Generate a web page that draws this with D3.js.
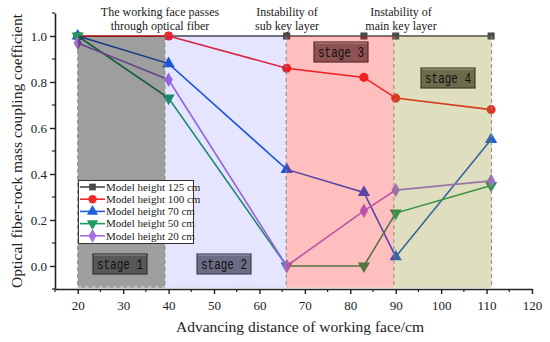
<!DOCTYPE html>
<html><head><meta charset="utf-8">
<script src="https://cdn.jsdelivr.net/npm/d3@7"></script>
<style>body{margin:0;background:#fff}svg{display:block}</style>
</head><body>
<svg id="c" width="550" height="342"></svg>
<script>
const xValues = [20, 40, 66, 83, 90, 111];
const seriesNames = ["Model height 125 cm","Model height 100 cm","Model height 70 cm","Model height 50 cm","Model height 20 cm"];
const h125 = [1.0, 1.0, 1.0, 1.0, 1.0, 1.0];
const h100 = [1.0, 1.0, 0.86, 0.82, 0.73, 0.68];
const h70  = [1.0, 0.88, 0.42, 0.32, 0.04, 0.55];
const h50  = [1.0, 0.73, 0.0, 0.0, 0.23, 0.35];
const h20  = [0.97, 0.81, 0.0, 0.24, 0.33, 0.37];
const stageNames = ["stage 1","stage 2","stage 3","stage 4"];
const stageBounds = [20, 39.2, 65.9, 89.6, 111.1];
const xTicks = [20,30,40,50,60,70,80,90,100,110,120];
const yTicks = [0.0,0.2,0.4,0.6,0.8,1.0];

const colors = ["#4a4a4a","#f02828","#1f5fd8","#1f9a5a","#a570e0"];
const symbols = [d3.symbolSquare, d3.symbolCircle, d3.symbolTriangle, "tdown", d3.symbolDiamond];
const seriesData = [h125,h100,h70,h50,h20];

const svg = d3.select("#c");
const x = d3.scaleLinear().domain([15,120]).range([55,532]);
const y = d3.scaleLinear().domain([-0.1,1.1]).range([289,13]);
const font = "'Liberation Serif','Times New Roman',serif";

function sym(g, s, size){
  if (s === "tdown") {
    return g.append("path").attr("d", d3.symbol(d3.symbolTriangle).size(size)()).attr("transform","rotate(180)");
  }
  return g.append("path").attr("d", d3.symbol(s).size(size)());
}

// series lines & markers
seriesData.forEach((vals, i) => {
  const pts = vals.map((v, k) => [xValues[k], v]);
  svg.append("path").datum(pts)
    .attr("fill","none").attr("stroke",colors[i]).attr("stroke-width",1.6)
    .attr("d", d3.line().x(d=>x(d[0])).y(d=>y(d[1])));
  pts.forEach(p => {
    const g = svg.append("g").attr("transform",`translate(${x(p[0])},${y(p[1])})`);
    const sz = symbols[i] === d3.symbolDiamond ? 60 : (symbols[i]===d3.symbolSquare ? 50 : 65);
    sym(g, symbols[i], sz).attr("fill", colors[i]);
  });
});

// stage overlays
const stageFill = ["#000000","#0000ff","#ff0000","#808000"];
const stageOp = [0.38, 0.1, 0.25, 0.25];
for (let i=0;i<4;i++){
  svg.append("rect")
    .attr("x", x(stageBounds[i])).attr("y", y(1.0))
    .attr("width", x(stageBounds[i+1]) - x(stageBounds[i]))
    .attr("height", y(-0.1) - y(1.0) - 1)
    .attr("fill", stageFill[i]).attr("fill-opacity", stageOp[i]);
}
// dashed borders
for (let i=0;i<5;i++){
  svg.append("line").attr("x1",x(stageBounds[i])).attr("x2",x(stageBounds[i]))
    .attr("y1",y(1.0)).attr("y2",y(-0.1)-1)
    .attr("stroke","#8a8a8a").attr("stroke-width",1).attr("stroke-dasharray","4,3");
}
svg.append("line").attr("x1",x(stageBounds[0])).attr("x2",x(stageBounds[4]))
  .attr("y1",y(-0.1)-2).attr("y2",y(-0.1)-2)
  .attr("stroke","#dddddd").attr("stroke-width",1).attr("stroke-dasharray","4,3");

// stage labels
const stageBox = [
  {cx:120, cy:264, fill:"#575757", stroke:"#333"},
  {cx:224, cy:264, fill:"#6c6c84", stroke:"#44445a"},
  {cx:341, cy:52, fill:"#8e5252", stroke:"#5a2a2a"},
  {cx:448, cy:78, fill:"#6c6c4c", stroke:"#404028"}
];
stageBox.forEach((b,i)=>{
  svg.append("rect").attr("x",b.cx-27).attr("y",b.cy-10).attr("width",54).attr("height",20)
    .attr("fill",b.fill).attr("stroke",b.stroke).attr("stroke-width",1.2);
  svg.append("line").attr("x1",b.cx-26).attr("x2",b.cx+26).attr("y1",b.cy-9).attr("y2",b.cy-9)
    .attr("stroke","#ffffff").attr("stroke-opacity",0.35).attr("stroke-width",1);
  svg.append("text").attr("x",b.cx).attr("y",b.cy+5).attr("text-anchor","middle")
    .attr("font-family","'Liberation Mono','DejaVu Sans Mono',monospace").attr("font-size",14)
    .attr("textLength",46).attr("lengthAdjust","spacingAndGlyphs")
    .attr("fill","#111").text(stageNames[i]);
});

// axes
const xAxis = svg.append("g").attr("transform",`translate(0,${y(-0.1)})`)
  .call(d3.axisBottom(x).tickValues(xTicks).tickFormat(d3.format("d")).tickSize(5).tickSizeOuter(0));
const yAxis = svg.append("g").attr("transform",`translate(${x(15)},0)`)
  .call(d3.axisLeft(y).tickValues(yTicks).tickFormat(d3.format(".1f")).tickSize(5).tickSizeOuter(0));
[xAxis,yAxis].forEach(a=>{
  a.select(".domain").attr("stroke","#222").attr("stroke-width",1.6);
  a.selectAll(".tick line").attr("stroke","#222").attr("stroke-width",1.4);
  a.selectAll("text").attr("font-family",font).attr("font-size",13).attr("fill","#222");
});
xAxis.selectAll("text").attr("dy","1.0em");
// minor ticks
const xMinor = xTicks.slice(0,-1).map(v=>v+5).concat([15]);
xMinor.forEach(v=>{
  svg.append("line").attr("x1",x(v)).attr("x2",x(v)).attr("y1",y(-0.1)).attr("y2",y(-0.1)+3)
    .attr("stroke","#222").attr("stroke-width",1.2);
});
const yMinor = [-0.1,0.1,0.3,0.5,0.7,0.9,1.1];
yMinor.forEach(v=>{
  svg.append("line").attr("x1",x(15)).attr("x2",x(15)-3).attr("y1",y(v)).attr("y2",y(v))
    .attr("stroke","#222").attr("stroke-width",1.2);
});

// axis titles
svg.append("text").attr("x",300).attr("y",332).attr("text-anchor","middle")
  .attr("font-family",font).attr("font-size",15.5).attr("fill","#222")
  .text("Advancing distance of working face/cm");
svg.append("text").attr("transform","translate(22,151) rotate(-90)").attr("text-anchor","middle")
  .attr("font-family",font).attr("font-size",15.5).attr("fill","#222")
  .text("Optical fiber-rock mass coupling coefficient");

// annotations
const notes = [
  {cx:160, lines:["The working face passes","through optical fiber"]},
  {cx:287, lines:["Instability of","sub key layer"]},
  {cx:401, lines:["Instability of","main key layer"]}
];
notes.forEach(n=>{
  n.lines.forEach((t,j)=>{
    svg.append("text").attr("x",n.cx).attr("y",16+j*14).attr("text-anchor","middle")
      .attr("font-family",font).attr("font-size",12).attr("fill","#222").text(t);
  });
});

// legend
const lg = svg.append("g");
lg.append("rect").attr("x",78.5).attr("y",180.5).attr("width",115).attr("height",63)
  .attr("fill","#fff").attr("stroke","#333").attr("stroke-width",1);
seriesNames.forEach((name,i)=>{
  const yy = 187 + i*12.2;
  lg.append("line").attr("x1",80).attr("x2",105).attr("y1",yy).attr("y2",yy)
    .attr("stroke",colors[i]).attr("stroke-width",1.6);
  const g = lg.append("g").attr("transform",`translate(92.5,${yy})`);
  const sz = symbols[i] === d3.symbolDiamond ? 55 : (symbols[i]===d3.symbolSquare ? 45 : 55);
  sym(g, symbols[i], sz).attr("fill",colors[i]);
  lg.append("text").attr("x",106).attr("y",yy+3.8).attr("font-family",font).attr("font-size",11)
    .attr("fill","#222").text(name);
});
</script>
</body></html>
